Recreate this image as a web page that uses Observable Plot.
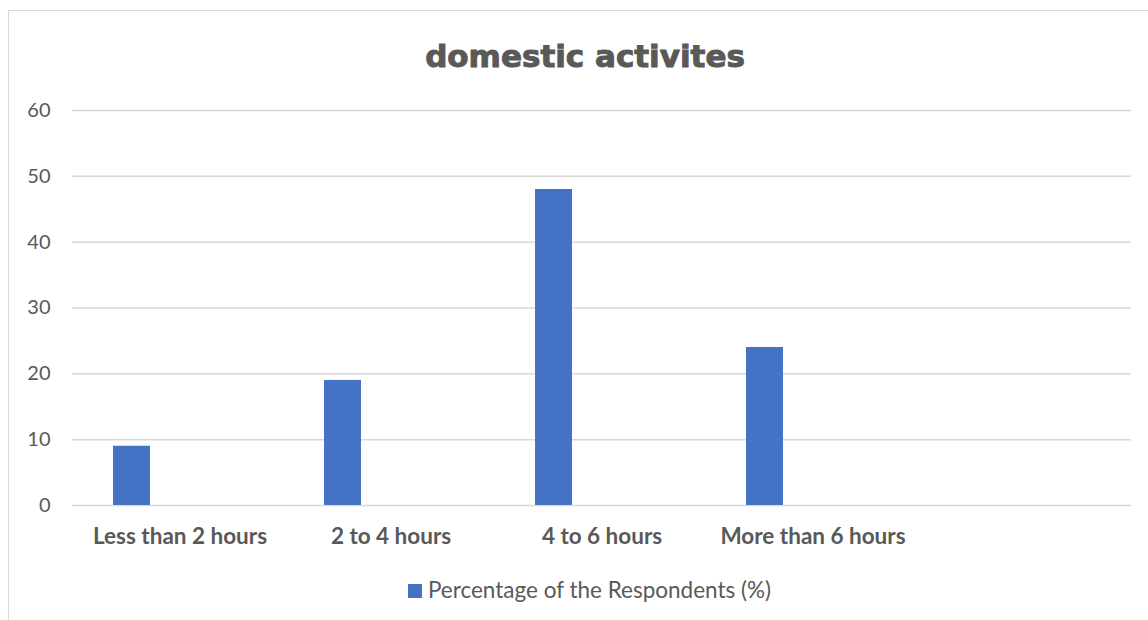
<!DOCTYPE html>
<html>
<head>
<meta charset="utf-8">
<script src="https://cdn.jsdelivr.net/npm/d3@7"></script>
<script src="https://cdn.jsdelivr.net/npm/@observablehq/plot@0.6"></script>
<style>
  html, body { margin: 0; padding: 0; background: #fff; }
  body { width: 1148px; height: 620px; overflow: hidden; }
  #frame {
    position: absolute; left: 8px; top: 10px; width: 1160px; height: 640px;
    border-top: 1.5px solid #d9d9d9; border-left: 1.5px solid #d9d9d9;
    box-sizing: border-box;
  }
  #title {
    height: 79px; box-sizing: border-box; padding-top: 30px;
    width: 1140px; padding-left: 12px; text-align: center;
    font-family: "DejaVu Sans", sans-serif; font-weight: bold; font-size: 31px;
    color: #595959; -webkit-text-stroke: 1px #595959; line-height: 31px;
  }
  #chart svg { display: block; }
  #legend {
    width: 1140px; padding-left: 21px; box-sizing: border-box; text-align: center;
    margin-top: 16px;
    font-family: Lato, "Open Sans", sans-serif; font-size: 22.5px; color: #595959;
  }
  #legend .sw { display: inline-block; width: 14px; height: 14px; background: #4472C4; margin-right: 6px; vertical-align: 0px; }
</style>
</head>
<body>
<div id="frame">
  <div id="title">domestic activites</div>
  <div id="chart"></div>
  <div id="legend"><span class="sw"></span>Percentage of the Respondents (%)</div>
</div>
<script>
const categories = ["Less than 2 hours", "2 to 4 hours", "4 to 6 hours", "More than 6 hours", ""];
const values = [9, 19, 48, 24];
const seriesName = "Percentage of the Respondents (%)";
const yTicks = [0, 10, 20, 30, 40, 50, 60];

const data = values.map((v, i) => ({category: categories[i], value: v, series: seriesName}));

const chart = Plot.plot({
  width: 1140,
  height: 470,
  marginLeft: 63,
  marginRight: 18,
  marginTop: 20,
  marginBottom: 55,
  style: {fontFamily: "Lato, 'Open Sans', sans-serif", fontSize: "20px", color: "#595959", background: "transparent"},
  x: {domain: categories, padding: 0, label: null},
  y: {domain: [0, 60], label: null},
  marks: [
    Plot.gridY(yTicks, {stroke: "#d9d9d9", strokeOpacity: 1, strokeWidth: 1.5}),
    Plot.barY(data, {x: "category", y: "value", fill: "#4472C4", insetLeft: 39, insetRight: 135}),
    Plot.axisY(yTicks, {tickSize: 0, tickPadding: 22, fontSize: 20, fill: "#595959", label: null}),
    Plot.axisX({tickSize: 0, tickPadding: 23, fontSize: 22.5, fontWeight: "bold", fill: "#595959", label: null})
  ]
});
document.getElementById("chart").appendChild(chart);
</script>
</body>
</html>
